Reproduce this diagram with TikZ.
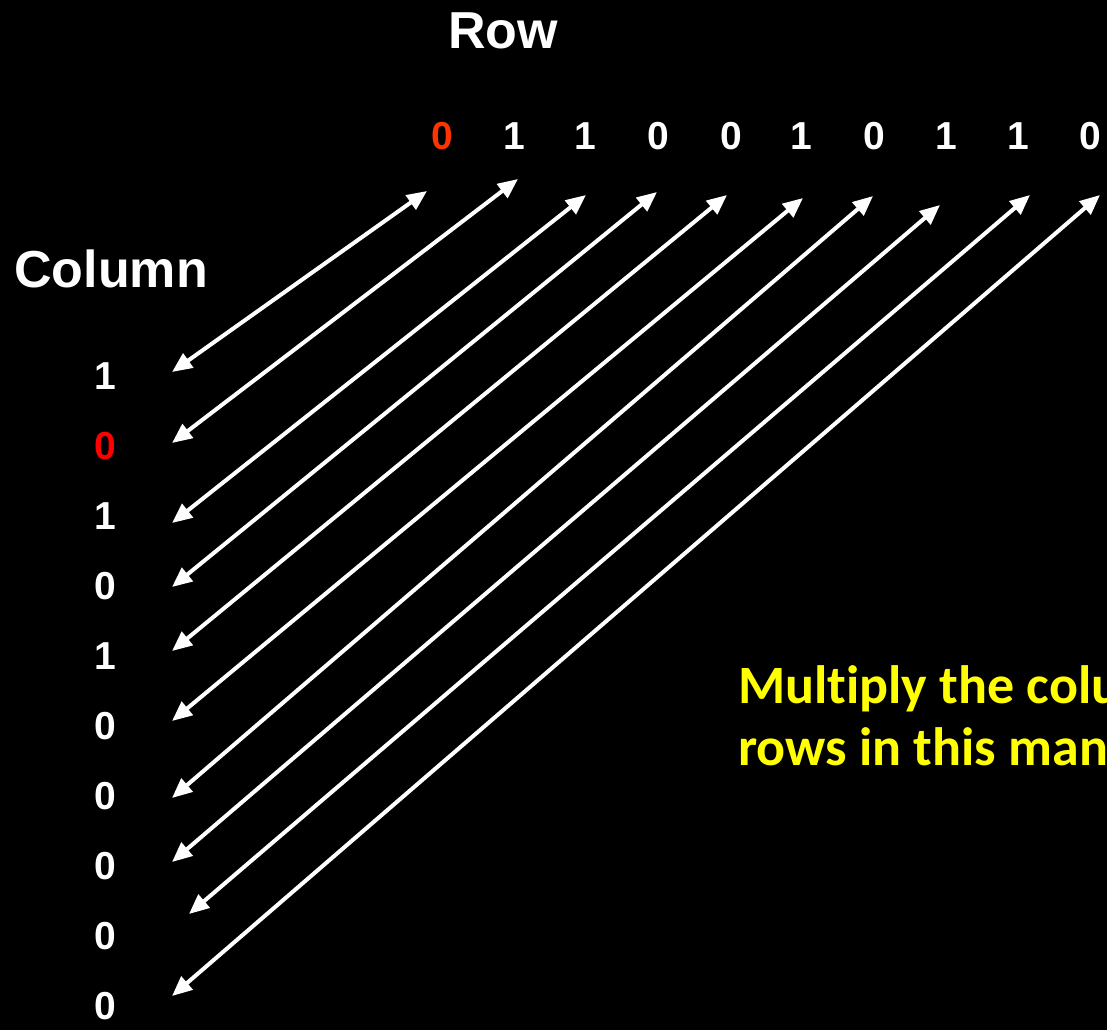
\documentclass[tikz,border=0pt]{standalone}
\usepackage{fontspec}
\setmainfont{Liberation Sans}
\newfontfamily\calib[Ligatures=NoCommon]{Carlito}
\usetikzlibrary{arrows.meta}
\definecolor{rowred}{HTML}{FF3300}
\definecolor{colred}{HTML}{FF0000}
\definecolor{hiyellow}{HTML}{FFFF00}
\tikzset{
  title/.style={text=white, inner sep=0pt, anchor=base, font=\fontsize{52}{60}\selectfont\bfseries},
  digit/.style={text=white, inner sep=0pt, anchor=base, font=\fontsize{39}{46}\selectfont\bfseries},
  note/.style={text=hiyellow, inner sep=0pt, anchor=base west, font=\calib\fontsize{54}{64}\selectfont\bfseries},
  dbl/.style={white, line width=4pt, {Triangle[length=20pt,width=17pt]}-{Triangle[length=20pt,width=17pt]}}
}
\begin{document}
\begin{tikzpicture}[x=1pt,y=-1pt]
\useasboundingbox (0,0) rectangle (1107,1030);
\fill[black] (0,0) rectangle (1107,1030);
\clip (0,0) rectangle (1107,1030);

\node[title] (rowlabel) at (503,49) {Row};
\node[title] (collabel) at (111,287) {Column};

% row digits
\foreach \x/\d/\c [count=\i] in {442/0/rowred,514/1/white,585/1/white,658/0/white,731/0/white,801/1/white,874/0/white,946/1/white,1018/1/white,1090/0/white}
  \node[digit, text=\c] (r\i) at (\x,149) {\d};

% column digits
\foreach \d/\c [count=\i] in {1/white,0/colred,1/white,0/white,1/white,0/white,0/white,0/white,0/white,0/white}
  \node[digit, text=\c] (c\i) at (105,{319+70*\i}) {\d};

% arrow end points
\foreach \tx/\ty/\bx/\by [count=\i] in {427/191/172/372, 518/179/172/443, 586/195/172/523, 657/192/172/587, 727/195/172/651, 803/198/172/721, 873/196/172/798, 940/205/172/862, 1030/195/189/914, 1100/195/172/996}
{
  \coordinate (t\i) at (\tx,\ty);
  \coordinate (b\i) at (\bx,\by);
  \draw[dbl] (b\i) -- (t\i);
}

\node[note] (note1) at (738,703) {Multiply the columns};
\node[note] (note2) at (738,765) {rows in this manner};
\end{tikzpicture}
\end{document}
